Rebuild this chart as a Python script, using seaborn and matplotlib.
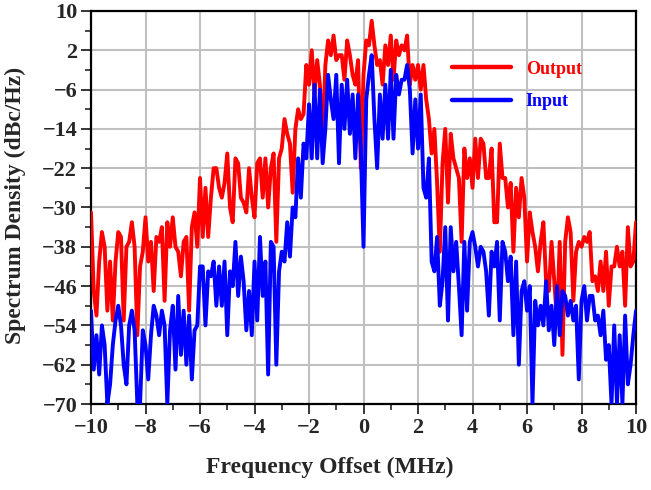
import numpy as np
import pandas as pd
import matplotlib
matplotlib.use("Agg")
import matplotlib.pyplot as plt
import seaborn as sns
from matplotlib.ticker import FixedLocator, MultipleLocator

# spectrum, 0.1 MHz steps from -10 to 10 MHz
output_db = [
    -31, -47, -52, -41, -35, -38, -51, -41, -53, -41,
    -35, -36, -53, -38, -37, -33, -38, -56, -42, -39,
    -32, -41, -37, -47, -36, -37, -34, -49, -33, -38,
    -32, -38, -39, -44, -37, -36, -51, -34, -31, -38,
    -24, -36, -26, -36, -28, -22, -22, -26, -28, -25,
    -19, -30, -33, -20, -21, -28, -29, -31, -22, -28,
    -32, -21, -20, -28, -20, -30, -22, -19, -37, -20,
    -18, -12, -15, -17, -27, -14, -10, -12, -11, -1,
    -5, 2, -7, 0, -5, -17, -1, 4, 1, 5,
    0, 1, 1, -4, 4, 1, -3, -5, 0, -22,
    -3, 4, 3, 8, 3, -1, 0, -5, 3, -1,
    5, -4, 4, 1, 3, 2, 5, -5, -1, -4,
    -1, -6, -1, -8, -12, -19, -14, -25, -39, -21,
    -14, -29, -15, -20, -22, -24, -37, -18, -24, -20,
    -26, -16, -24, -16, -17, -24, -24, -18, -33, -33,
    -17, -24, -24, -30, -25, -39, -26, -32, -24, -28,
    -41, -31, -35, -38, -43, -37, -33, -45, -47, -37,
    -45, -53, -37, -60, -37, -32, -35, -49, -39, -37,
    -38, -36, -37, -35, -45, -44, -47, -41, -47, -39,
    -50, -42, -42, -38, -42, -39, -50, -34, -42, -41, -33,
]
input_db = [
    -51, -63, -56, -64, -54, -58, -70, -66, -58, -53,
    -50, -54, -62, -66, -54, -51, -55, -70, -70, -55,
    -58, -65, -56, -50, -52, -56, -51, -54, -70, -55,
    -50, -63, -48, -60, -51, -62, -52, -65, -55, -54,
    -42, -42, -54, -43, -44, -41, -50, -42, -50, -41,
    -56, -43, -46, -37, -48, -40, -45, -55, -47, -56,
    -41, -53, -36, -48, -41, -64, -37, -38, -62, -43,
    -39, -41, -33, -40, -30, -32, -20, -28, -17, -20,
    -9, -20, -5, -20, -6, -21, -14, -3, -8, -12,
    -3, -21, -5, -14, -4, -15, -7, -20, -7, -18,
    -38, -8, -3, 1, -12, -22, -7, -16, -5, -16,
    -2, -16, -3, -7, -4, -4, -1, -6, -19, -8,
    -18, -7, -26, -28, -20, -41, -43, -36, -50, -45,
    -34, -53, -34, -43, -37, -46, -56, -37, -51, -37,
    -35, -38, -42, -38, -39, -43, -52, -39, -42, -37,
    -53, -37, -39, -45, -40, -56, -41, -62, -47, -45,
    -51, -46, -70, -49, -54, -50, -54, -45, -55, -50,
    -58, -46, -56, -47, -48, -52, -49, -53, -50, -65,
    -49, -46, -53, -48, -48, -53, -52, -56, -51, -61,
    -58, -70, -54, -70, -56, -70, -52, -66, -62, -56, -51,
]
freq_mhz = np.linspace(-10, 10, len(output_db))

y_ticks = [10, 2, -6, -14, -22, -30, -38, -46, -54, -62, -70]
y_minor = [6, -2, -10, -18, -26, -34, -42, -50, -58, -66]
x_ticks = [-10, -8, -6, -4, -2, 0, 2, 4, 6, 8, 10]

series_names = ["Output", "Input"]
series_colors = ["#ff0000", "#0000ff"]

df = pd.concat([
    pd.DataFrame({"freq": freq_mhz, "psd": output_db, "signal": "Output"}),
    pd.DataFrame({"freq": freq_mhz, "psd": input_db, "signal": "Input"}),
], ignore_index=True)

sns.set_style("ticks")
plt.rcParams["font.family"] = ["Liberation Serif", "DejaVu Serif"]
plt.rcParams["font.weight"] = "bold"

fig = plt.figure(figsize=(6.51, 4.90), dpi=100)
ax = fig.add_axes([0.1398, 0.1755, 0.8372, 0.8021])

sns.lineplot(data=df, x="freq", y="psd", hue="signal", hue_order=series_names,
             palette=dict(zip(series_names, series_colors)), estimator=None,
             sort=False, linewidth=2.8, ax=ax, zorder=3)

ax.set_xlim(-10, 10)
ax.set_ylim(-70, 10)
ax.xaxis.set_major_locator(FixedLocator(x_ticks))
ax.xaxis.set_minor_locator(MultipleLocator(1))
ax.yaxis.set_major_locator(FixedLocator(y_ticks))
ax.yaxis.set_minor_locator(FixedLocator(y_minor))
ax.grid(True, which="major", color="#c0c0c0", linewidth=1.5, zorder=0)
ax.tick_params(which="major", direction="out", length=7, width=1.3,
               labelsize=16, pad=3)
ax.tick_params(which="minor", direction="out", length=4, width=1.2)
for lab in ax.get_xticklabels() + ax.get_yticklabels():
    lab.set_fontweight("bold")
for sp in ax.spines.values():
    sp.set_linewidth(1.6)
    sp.set_color("black")

ax.set_xlabel("Frequency Offset (MHz)", fontsize=17, fontweight="bold")
ax.set_ylabel("Spectrum Density (dBc/Hz)", fontsize=17, fontweight="bold")
ax.xaxis.set_label_coords(0.4385, -0.135)
ax.yaxis.set_label_coords(-0.12, 0.505)

handles, labels = ax.get_legend_handles_labels()
leg = ax.legend(handles, labels, loc="upper right", bbox_to_anchor=(0.93, 0.915),
                frameon=False, handlelength=3.3, handletextpad=0.8,
                labelspacing=0.85, prop={"size": 13, "weight": "bold"})
for txt, col in zip(leg.get_texts(), series_colors):
    txt.set_color(col)
for ln in leg.get_lines():
    ln.set_linewidth(3.2)

fig.savefig("out.png", dpi=100)
